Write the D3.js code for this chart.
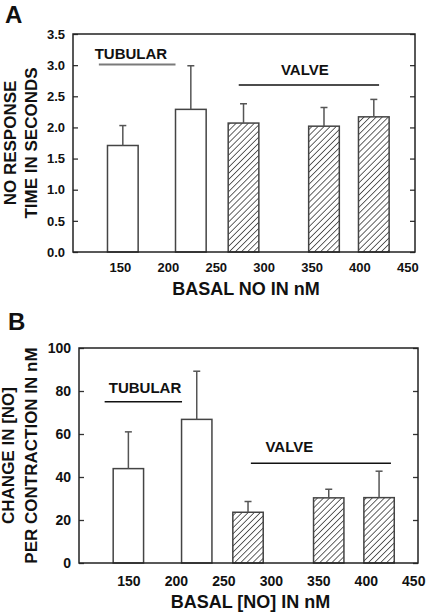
<!DOCTYPE html>
<html>
<head>
<meta charset="utf-8">
<script src="https://cdn.jsdelivr.net/npm/d3@7"></script>
<style>
  html, body { margin: 0; padding: 0; background: #fff; }
  svg { display: block; }
  text { font-family: Arial, "Liberation Sans", Helvetica, sans-serif; font-weight: bold; fill: #111; }
</style>
</head>
<body>
<svg id="chart" width="428" height="614"></svg>
<script>
// ---------- DATA ----------
const xTicks = [150, 200, 250, 300, 350, 400, 450];

// Panel A: NO response time (s)
const yTicksA = [0, 0.5, 1.0, 1.5, 2.0, 2.5, 3.0, 3.5];
const basalA = [153, 224, 279, 363, 415];
const meanA = [1.71, 2.29, 2.07, 2.02, 2.17];
const seA = [0.32, 0.70, 0.31, 0.30, 0.28];
const groupA = ["tubular", "tubular", "valve", "valve", "valve"];

// Panel B: change in [NO] per contraction (nM)
const yTicksB = [0, 20, 40, 60, 80, 100];
const basalB = [150, 222, 276, 361, 414];
const meanB = [43.9, 66.8, 23.6, 30.3, 30.4];
const seB = [17.1, 22.4, 5.0, 4.0, 12.3];
const groupB = ["tubular", "tubular", "valve", "valve", "valve"];

const groupLabels = ["TUBULAR", "VALVE"];

// ---------- DRAW ----------
const svg = d3.select("#chart");
const defs = svg.append("defs");
const pat = defs.append("pattern")
  .attr("id", "hatch")
  .attr("patternUnits", "userSpaceOnUse")
  .attr("width", 4.3).attr("height", 4.3)
  .attr("patternTransform", "rotate(45)");
pat.append("rect").attr("width", 4.3).attr("height", 4.3).attr("fill", "#fff");
pat.append("line").attr("x1", 0).attr("y1", 0).attr("x2", 0).attr("y2", 4.3)
  .attr("stroke", "#111").attr("stroke-width", 1.3);

function panel(cfg) {
  const x = d3.scaleLinear().domain(cfg.xDomain).range([cfg.left, cfg.right]);
  const y = d3.scaleLinear().domain([cfg.yTicks[0], cfg.yTicks[cfg.yTicks.length - 1]]).range([cfg.bottom, cfg.top]);
  const g = svg.append("g");
  const rows = cfg.basal.map((b, i) => ({ b, m: cfg.mean[i], se: cfg.se[i], grp: cfg.group[i] }));

  // bars
  g.selectAll("rect.bar").data(rows).enter().append("rect")
    .attr("class", "bar")
    .attr("x", d => x(d.b - cfg.barW / 2))
    .attr("width", d => x(d.b + cfg.barW / 2) - x(d.b - cfg.barW / 2))
    .attr("y", d => y(d.m))
    .attr("height", d => y(0) - y(d.m))
    .attr("fill", d => d.grp === "valve" ? "url(#hatch)" : "#fff")
    .attr("stroke", "#444").attr("stroke-width", 1.5);

  // error bars (upper only)
  g.selectAll("line.err").data(rows).enter().append("line")
    .attr("x1", d => x(d.b)).attr("x2", d => x(d.b))
    .attr("y1", d => y(d.m)).attr("y2", d => y(d.m + d.se))
    .attr("stroke", "#555").attr("stroke-width", 1.5);
  g.selectAll("line.cap").data(rows).enter().append("line")
    .attr("x1", d => x(d.b) - 3.5).attr("x2", d => x(d.b) + 3.5)
    .attr("y1", d => y(d.m + d.se)).attr("y2", d => y(d.m + d.se))
    .attr("stroke", "#555").attr("stroke-width", 1.5);

  // axes
  const yl = g.append("g").attr("transform", `translate(${cfg.left},0)`)
    .call(d3.axisLeft(y).tickValues(cfg.yTicks).tickFormat(cfg.fmt).tickSize(-5).tickSizeOuter(0).tickPadding(8));
  const yr = g.append("g").attr("transform", `translate(${cfg.right},0)`)
    .call(d3.axisRight(y).tickValues(cfg.yTicks).tickFormat("").tickSize(-5).tickSizeOuter(0));
  const xb = g.append("g").attr("transform", `translate(0,${cfg.bottom})`)
    .call(d3.axisBottom(x).tickValues(xTicks).tickFormat(d3.format("d")).tickSize(0).tickSizeOuter(0).tickPadding(cfg.xPad));
  [yl, yr, xb].forEach(a => {
    a.select(".domain").remove();
    a.selectAll("line").attr("stroke", "#333").attr("stroke-width", 1.3);
    a.selectAll("text").style("font-size", cfg.tickFont + "px").style("font-family", "Arial, 'Liberation Sans', sans-serif").style("font-weight", "bold").attr("fill", "#111");
  });
  // frame
  g.append("rect").attr("x", cfg.left).attr("y", cfg.top)
    .attr("width", cfg.right - cfg.left).attr("height", cfg.bottom - cfg.top)
    .attr("fill", "none").attr("stroke", "#222").attr("stroke-width", 1.5);

  // group annotations
  cfg.annot.forEach((a, i) => {
    g.append("line").attr("x1", x(a.x1)).attr("x2", x(a.x2)).attr("y1", y(a.y)).attr("y2", y(a.y))
      .attr("stroke", a.color).attr("stroke-width", a.w);
    g.append("text").attr("x", x(a.tx)).attr("y", y(a.ty)).attr("text-anchor", "middle")
      .style("font-size", "15px").text(groupLabels[i]);
  });

  // axis titles
  g.append("text").attr("x", (cfg.left + cfg.right) / 2 + 2).attr("y", cfg.xTitleY)
    .attr("text-anchor", "middle").style("font-size", "18px").text(cfg.xTitle);
  const cy = (cfg.top + cfg.bottom) / 2;
  cfg.yTitle.forEach((t, i) => {
    g.append("text").attr("transform", `translate(${cfg.yTitleX[i]},${cy}) rotate(-90)`)
      .attr("text-anchor", "middle").style("font-size", "17px").text(t);
  });
  // panel letter
  g.append("text").attr("x", cfg.letterX).attr("y", cfg.letterY).style("font-size", "24px").text(cfg.letter);
}

panel({
  letter: "A", letterX: 5, letterY: 23,
  left: 73, right: 415, top: 34, bottom: 252,
  xDomain: [101, 458], yTicks: yTicksA, fmt: d3.format(".1f"),
  basal: basalA, mean: meanA, se: seA, group: groupA, barW: 32,
  tickFont: 13, xPad: 11,
  xTitle: "BASAL NO IN nM", xTitleY: 295,
  yTitle: ["NO RESPONSE", "TIME IN SECONDS"], yTitleX: [16, 37],
  annot: [
    { x1: 128, x2: 208, y: 3.01, tx: 161.5, ty: 3.1, color: "#7a7a7a", w: 2.2 },
    { x1: 274, x2: 420.5, y: 2.68, tx: 343, ty: 2.84, color: "#111", w: 1.4 }
  ]
});

panel({
  letter: "B", letterX: 8, letterY: 330,
  left: 79, right: 418, top: 348, bottom: 563,
  xDomain: [98, 455], yTicks: yTicksB, fmt: d3.format("d"),
  basal: basalB, mean: meanB, se: seB, group: groupB, barW: 32,
  tickFont: 14, xPad: 13,
  xTitle: "BASAL [NO] IN nM", xTitleY: 608,
  yTitle: ["CHANGE IN [NO]", "PER CONTRACTION IN nM"], yTitleX: [14, 37],
  annot: [
    { x1: 125, x2: 206.5, y: 75, tx: 167.5, ty: 79, color: "#111", w: 1.4 },
    { x1: 279, x2: 426.5, y: 46.4, tx: 319.5, ty: 51.8, color: "#111", w: 1.4 }
  ]
});
</script>
</body>
</html>
